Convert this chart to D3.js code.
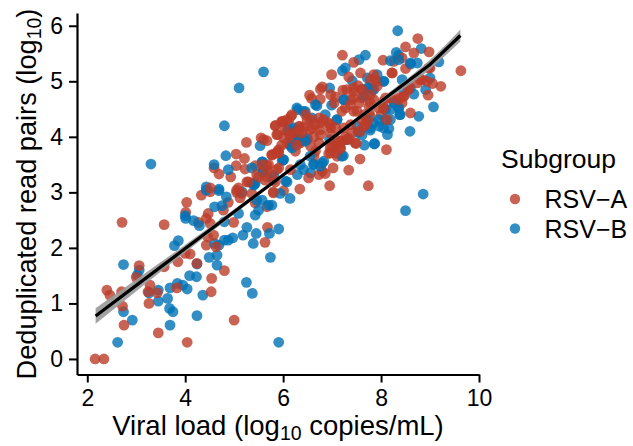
<!DOCTYPE html>
<html>
<head>
<meta charset="utf-8">
<script src="https://cdn.jsdelivr.net/npm/d3@7"></script>
<style>
  body { margin: 0; background: #fff; }
  text { font-family: "Liberation Sans", sans-serif; fill: #000; }
</style>
</head>
<body>
<div id="my_dataviz"></div>
<script>
const rsvA = [
  [2.16,0],[2.34,0],[2.71,2.46],[3.57,2.42],[2.40,1.24],[2.46,1.15],[2.70,1.21],[2.72,0.95],[2.75,0.61],[3.45,0.47],
  [4.04,0.30],[5.0,0.70],[3.26,1.0],[3.06,1.68],[3.0,1.47],[3.28,1.33],[3.24,1.21],[3.43,1.19],[3.83,1.28],[3.57,1.66],
  [3.85,1.75],[4.10,1.89],[4.0,1.90],[4.24,1.72],[4.54,1.45],[4.53,1.21],[4.80,1.59],[4.43,2.05],[4.03,2.82],[4.01,2.64],
  [4.33,2.95],[4.47,2.62],[4.43,2.53],[4.27,2.46],[4.51,2.44],[4.58,2.23],[4.46,2.20],[4.88,2.82],[4.99,2.46],[4.78,2.68],
  [5.05,3.0],[5.12,2.9],[5.43,2.81],[5.63,2.10],[5.68,2.37],[5.67,2.74],[5.80,2.99],[4.51,3.01],[4.63,2.02],[5.36,2.98],
  [5.84,4.20],[5.98,4.27],[5.87,4.04],[5.25,3.90],[5.55,3.98],[5.67,3.93],[5.77,3.68],[5.89,3.74],[5.04,3.69],[5.21,3.61],
  [5.04,3.48],[5.22,3.42],[4.59,3.44],[4.69,3.33],[4.93,3.28],[5.43,3.48],[5.67,3.48],[5.59,3.41],[5.46,3.32],[5.67,3.28],
  [5.26,3.19],[5.09,3.08],[4.51,3.08],[5.36,3.17],[5.87,3.41],
  [8.75,5.77],[8.50,5.62],[8.67,5.51],[8.98,5.53],[7.21,5.47],[7.44,5.34],[8.04,5.38],[8.26,5.36],[8.43,5.42],[9.0,5.24],
  [9.63,5.19],[8.50,5.23],[6.99,5.12],[7.34,5.08],[7.58,5.15],[7.85,5.12],[8.23,5.15],[7.78,5.03],[7.92,5.0],[6.80,4.90],
  [6.76,4.86],[7.22,4.84],[7.53,4.92],[6.54,4.75],[6.58,4.69],[6.76,4.68],[6.97,4.76],[7.07,4.72],[7.04,4.61],[7.44,4.82],
  [7.61,4.85],[7.38,4.67],[7.55,4.61],[7.68,4.73],[7.78,4.61],[7.27,4.52],[7.44,4.46],[8.60,4.43],[8.96,4.75],[9.22,4.91],
  [9.05,4.96],[8.84,5.03],[8.74,4.97],[8.94,5.0],[8.36,4.70],[8.47,4.73],[8.26,4.64],[8.09,4.70],[8.43,4.61],[8.57,4.88],
  [8.06,4.52],[7.78,4.37],[7.76,4.43],[8.11,3.77],[7.57,3.60],[7.49,3.88],[7.34,3.40],[7.02,3.44],[7.74,3.12],[6.95,3.12],
  [6.34,3.06],[6.01,3.03],[6.52,3.26],[6.73,3.32],[6.86,3.34],[6.80,3.38],[6.97,3.71],[7.10,3.65],[7.14,3.89],[7.17,3.80],
  [7.07,3.83],[6.63,3.65],[6.66,3.74],[6.25,3.74],[5.84,4.20],[6.01,4.28],[6.16,4.37],[6.11,4.28],[5.89,4.04],[6.08,4.10],
  [6.15,4.0],[6.46,4.40],[6.49,4.31],[6.32,4.19],[6.42,4.16],[6.59,4.16],[6.73,4.34],[6.76,4.25],[6.93,4.25],[6.97,4.16],
  [6.63,4.0],[6.76,4.04],[6.73,3.89],[6.56,3.83],[7.24,4.16],[7.38,4.22],[7.41,4.07],[7.27,4.0],[7.55,4.10],[7.65,4.19],
  [7.72,4.28],[7.65,4.40],[8.0,4.40],[5.84,3.70],[5.91,3.77],[5.91,3.44],[6.15,3.41],[6.35,3.89],[6.08,3.89],[6.01,3.98],
  [6.32,4.04],
  [6.55,4.31],[6.66,4.22],[6.83,4.31],[6.96,4.22],[6.76,4.13],[6.55,4.13],[6.96,4.07],[7.07,4.16],[6.35,4.19],[6.21,4.07],
  [6.38,4.07],[7.17,3.92],[7.0,3.83],[7.30,3.95],[7.61,4.31],[7.51,4.46],[7.37,4.58],[7.20,4.46],[7.44,4.88],[7.61,4.85],
  [7.78,4.76],[7.61,4.70],[7.44,4.70],[7.30,4.85],[7.92,4.91],[8.05,4.64],[7.85,4.67],[7.75,4.55],
  [5.50,3.28],[5.67,3.40],[5.77,3.31],[5.63,3.22],[5.84,3.19],[5.29,3.19],[5.05,3.04],[5.16,2.98],[5.80,3.01],[5.97,3.85],
  [6.08,4.31],[6.18,4.40],[5.97,4.28],[6.14,4.04],[6.04,4.13],[6.32,4.13],[6.28,3.85],[5.77,3.67],[5.91,3.71],[5.60,3.95],
  [5.70,3.50],[5.57,3.50],
  [8.36,4.67],[8.46,4.73],[8.19,4.70],[8.05,4.52],[8.22,5.15],[7.88,5.03],[8.56,4.85],[8.80,5.03],[8.97,5.24],
  [7.20,3.92],[7.34,3.97],[6.96,3.80],[7.07,3.71],[7.47,3.89],[7.58,4.10],[7.68,4.22],[7.95,4.52],[8.12,4.31],[6.93,3.70],
  [7.17,3.79],[7.10,3.94]
]
const rsvB = [
  [2.62,0.30],[2.74,1.70],[2.74,0.85],[2.92,0.70],[3.06,1.60],[3.02,1.51],[3.26,1.19],[3.45,1.24],[3.45,1.04],[3.64,1.09],
  [3.68,0.91],[3.75,0.85],[3.69,0.61],[3.69,1.28],[3.84,1.36],[3.95,1.33],[4.04,1.26],[4.09,1.50],[4.23,1.48],[4.36,1.15],
  [4.24,0.78],[4.24,1.71],[5.25,1.38],[5.37,1.18],[5.91,0.30],[5.74,1.83],[4.49,1.83],[4.65,1.69],[4.65,1.87],[4.69,2.05],
  [4.60,2.08],[4.80,2.14],[4.88,2.14],[4.97,2.18],[3.78,2.04],[3.86,2.13],[4.0,2.58],[4.01,2.53],[4.17,2.49],[4.29,2.40],
  [4.60,2.74],[4.75,2.76],[4.80,2.47],[5.09,2.62],[5.26,2.37],[5.18,2.23],[5.45,2.26],[5.39,2.08],[5.72,2.26],[5.91,2.34],
  [5.43,2.59],[5.50,2.68],[5.77,2.77],[5.57,2.86],[4.84,2.92],[4.69,3.03],[4.43,3.04],[5.16,3.01],
  [3.30,3.51],[4.80,4.20],[5.10,4.88],[5.60,5.17],[4.59,3.50],[4.83,3.66],[4.88,3.41],[5.53,3.84],[5.58,3.55],[5.36,3.44],
  [4.43,3.10],[4.69,3.06],[5.41,3.15],[5.59,3.37],[5.80,3.22],[5.98,3.57],
  [8.34,5.91],[8.82,5.59],[8.31,5.52],[8.36,5.47],[7.68,5.47],[7.55,5.39],[7.27,5.24],[7.21,5.19],[8.19,5.37],[9.18,5.35],
  [8.60,5.31],[8.36,5.39],[7.41,5.01],[7.72,5.06],[7.92,5.12],[8.06,5.0],[6.95,4.88],[7.72,4.88],[7.82,4.84],[7.24,4.67],
  [6.99,4.57],[6.69,4.56],[6.30,4.49],[6.41,4.46],[8.47,4.82],[8.60,4.88],[8.67,4.77],[8.91,4.85],[9.0,5.06],[9.07,4.54],
  [8.77,4.37],[8.59,4.10],[8.13,4.04],[8.16,4.15],[7.87,3.88],[7.66,3.85],[7.78,4.12],[8.19,4.31],[8.38,4.40],[8.36,4.52],
  [8.09,4.49],[7.96,4.19],[7.85,4.25],[7.10,4.31],[6.86,4.40],[6.59,4.34],[6.42,3.95],[6.49,3.95],[6.32,3.95],[6.16,3.85],
  [6.25,4.07],[7.23,3.66],[6.95,3.95],[6.0,3.59],[6.35,3.50],[6.42,3.41],[6.63,3.51],[6.80,3.53],[6.29,3.32],[6.56,3.35],
  [6.05,3.20],[5.81,3.29],[8.86,2.97],[8.50,2.67],[7.31,3.95],[7.53,4.08],[8.74,5.33],[8.43,5.03],
  [7.64,4.73],[7.75,4.88],[7.24,4.67],[7.51,4.19],[7.78,4.16],[7.71,4.31],[6.35,3.92],[6.49,3.98],[6.25,4.13],[6.28,4.52],
  [6.45,4.46],[6.18,3.92],[7.10,4.31],[6.66,4.58],
  [5.43,3.16],[5.40,3.13],[5.57,3.55],[6.14,3.85],[6.21,4.16],[6.11,4.13],[6.01,3.59],[6.08,3.19],[6.14,2.89],[5.94,2.98],
  [5.70,2.77],[5.46,2.86],
  [8.19,4.49],[8.36,4.52],[8.26,4.61],[8.39,4.40],[7.85,4.85],[8.05,5.0],[8.60,5.33],
  [7.20,3.65],[7.86,3.87],[7.95,4.31],[8.09,4.31],[8.05,4.16],[7.61,4.03],[6.83,3.56],[6.62,3.50],[6.76,3.47],[6.55,3.65],
  [6.45,3.92],[6.18,3.80],[6.28,4.03]
]

// fit line and its confidence band
const fitX = [2.17, 3, 4, 5, 6, 6.5, 7, 8, 9, 9.62]
const fitY = [0.775, 1.325, 1.988, 2.651, 3.314, 3.645, 3.977, 4.64, 5.303, 5.825]
const fitSe = [0.14, 0.105, 0.07, 0.045, 0.03, 0.028, 0.03, 0.05, 0.085, 0.11]

const subgroups = ["RSV\u2212A", "RSV\u2212B"]
const xTicks = [2, 4, 6, 8, 10]
const yTicks = [0, 1, 2, 3, 4, 5, 6]

const margin = {top: 13, left: 77, bottom: 374.5, right: 479}

const svg = d3.select("#my_dataviz")
    .append("svg")
    .attr("width", 633)
    .attr("height", 446)
    .style("display", "block")

const x = d3.scaleLinear().domain([1.79, 10]).range([margin.left, margin.right])
const y = d3.scaleLinear().domain([-0.28, 6.23]).range([margin.bottom, margin.top])
const color = d3.scaleOrdinal().domain(subgroups).range(["#BC3C29", "#0072B5"])

// the two groups are mixed in the drawing order
const points = []
d3.range(Math.max(rsvA.length, rsvB.length)).forEach(function(i) {
    if (rsvA[i]) points.push({p: rsvA[i], g: subgroups[0]})
    if (rsvB[i]) points.push({p: rsvB[i], g: subgroups[1]})
})

svg.selectAll("circle.pt")
    .data(points)
    .join("circle")
    .attr("class", "pt")
    .attr("cx", d => x(d.p[0]))
    .attr("cy", d => y(d.p[1]))
    .attr("r", 5.4)
    .attr("fill", d => color(d.g))
    .attr("fill-opacity", 0.8)

const band = d3.area()
    .x(d => x(fitX[d]))
    .y0(d => y(fitY[d] - fitSe[d]))
    .y1(d => y(fitY[d] + fitSe[d]))
    .curve(d3.curveMonotoneX)

svg.append("path")
    .attr("d", band(d3.range(fitX.length)))
    .attr("fill", "#999999")
    .attr("fill-opacity", 0.9)

svg.append("path")
    .attr("d", d3.line().x(d => x(fitX[d])).y(d => y(fitY[d]))(d3.range(fitX.length)))
    .attr("fill", "none")
    .attr("stroke", "#000")
    .attr("stroke-width", 3.2)

svg.append("g")
    .attr("transform", `translate(0, ${margin.bottom})`)
    .call(d3.axisBottom(x).tickValues(xTicks).tickFormat(d3.format("d")).tickSize(8).tickSizeOuter(0).tickPadding(7))
svg.append("g")
    .attr("transform", `translate(${margin.left}, 0)`)
    .call(d3.axisLeft(y).tickValues(yTicks).tickFormat(d3.format("d")).tickSize(8).tickSizeOuter(0).tickPadding(6))

svg.selectAll(".domain").attr("stroke", "#000").attr("stroke-width", 2.2)
svg.selectAll(".tick line").attr("stroke", "#000").attr("stroke-width", 2)
svg.selectAll(".tick text").attr("font-size", "23px").style("font-family", "Liberation Sans")

// titles with subscript
const xTitle = svg.append("text")
    .attr("x", 278)
    .attr("y", 435)
    .attr("text-anchor", "middle")
    .attr("font-size", "27.5px")
xTitle.append("tspan").text("Viral load (log")
xTitle.append("tspan").attr("dy", 5).attr("font-size", "19.5px").text("10")
xTitle.append("tspan").attr("dy", -5).text(" copies/mL)")

const yTitle = svg.append("text")
    .attr("transform", "translate(35.5, 194) rotate(-90)")
    .attr("text-anchor", "middle")
    .attr("font-size", "27.2px")
yTitle.append("tspan").text("Deduplicated read pairs (log")
yTitle.append("tspan").attr("dy", 5).attr("font-size", "19.5px").text("10")
yTitle.append("tspan").attr("dy", -5).text(")")

// legend
svg.append("text")
    .attr("x", 501)
    .attr("y", 168)
    .attr("font-size", "26.5px")
    .text("Subgroup")

const legend = svg.selectAll("g.key")
    .data(subgroups)
    .join("g")
    .attr("class", "key")
    .attr("transform", (d, i) => `translate(0, ${199 + i * 29.5})`)

legend.append("circle")
    .attr("cx", 515)
    .attr("r", 5.2)
    .attr("fill", d => color(d))
    .attr("fill-opacity", 0.8)

legend.append("text")
    .attr("x", 544.5)
    .attr("y", 9)
    .attr("font-size", "25px")
    .text(d => d)
</script>
</body>
</html>
